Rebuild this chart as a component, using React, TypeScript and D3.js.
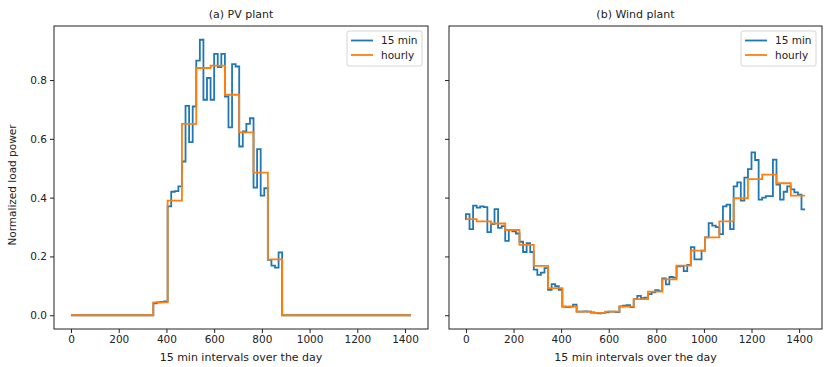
import React, { useEffect, useRef } from 'react';
import * as d3 from 'd3';

// 15-min samples (96 per day), x = 15 * index minutes
const pv15 = [
  0, 0, 0, 0, 0, 0, 0, 0, 0, 0, 0, 0,
  0, 0, 0, 0, 0, 0, 0, 0, 0, 0, 0, 0,
  0.040, 0.044, 0.045, 0.047, 0.370, 0.420, 0.422, 0.438,
  0.523, 0.712, 0.589, 0.710, 0.866, 0.937, 0.733, 0.807,
  0.733, 0.889, 0.844, 0.889, 0.744, 0.639, 0.854, 0.846,
  0.574, 0.625, 0.651, 0.670, 0.434, 0.565, 0.407, 0.432,
  0.188, 0.169, 0.162, 0.214,
  0, 0, 0, 0, 0, 0, 0, 0, 0, 0, 0, 0,
  0, 0, 0, 0, 0, 0, 0, 0, 0, 0, 0, 0,
  0, 0, 0, 0, 0, 0, 0, 0, 0, 0, 0, 0,
];
const pvHourly = [
  0, 0, 0, 0, 0, 0, 0.044, 0.390, 0.651, 0.841, 0.849, 0.750,
  0.622, 0.485, 0.190, 0, 0, 0, 0, 0, 0, 0, 0, 0,
];

const wind15 = [
  0.324, 0.344, 0.293, 0.373, 0.366, 0.370, 0.368, 0.283,
  0.310, 0.361, 0.297, 0.303, 0.253, 0.290, 0.285, 0.278,
  0.250, 0.215, 0.245, 0.215, 0.155, 0.137, 0.145, 0.160,
  0.086, 0.106, 0.099, 0.086, 0.029, 0.028, 0.029, 0.036,
  0.012, 0.012, 0.013, 0.012, 0.010, 0.008, 0.006, 0.008,
  0.010, 0.012, 0.012, 0.011, 0.030, 0.033, 0.034, 0.028,
  0.055, 0.066, 0.058, 0.060, 0.072, 0.078, 0.085, 0.082,
  0.125, 0.105, 0.130, 0.128, 0.166, 0.167, 0.150, 0.171,
  0.232, 0.190, 0.190, 0.220, 0.265, 0.313, 0.305, 0.300,
  0.276, 0.370, 0.376, 0.293, 0.438, 0.452, 0.390, 0.468,
  0.497, 0.554, 0.528, 0.393, 0.400, 0.405, 0.405, 0.529,
  0.444, 0.393, 0.420, 0.438, 0.428, 0.418, 0.410, 0.360,
];
const windHourly = [
  0.327, 0.319, 0.312, 0.290, 0.239, 0.168, 0.092, 0.029,
  0.012, 0.008, 0.012, 0.029, 0.055, 0.080, 0.122, 0.169,
  0.220, 0.265, 0.319, 0.398, 0.463, 0.478, 0.449, 0.407,
];

const xTicks = [0, 200, 400, 600, 800, 1000, 1200, 1400];
const yTicks = [0, 0.2, 0.4, 0.6, 0.8];
const titles = ['(a) PV plant', '(b) Wind plant'];
const seriesNames = ['15 min', 'hourly'];
const colors = ['#1f77b4', '#ff7f0e'];

const W = 828;
const H = 367;
const FONT = 'DejaVu Sans, sans-serif';

const App = () => {
  const ref = useRef<SVGSVGElement | null>(null);

  useEffect(() => {
    const svg = d3.select(ref.current);
    svg.selectAll('*').remove();

    const top = 26;
    const bottom = 329;
    const panels = [
      { left: 54, right: 428, q: pv15, h: pvHourly, title: titles[0], yLabels: true },
      { left: 449, right: 822, q: wind15, h: windHourly, title: titles[1], yLabels: false },
    ];

    // shared y, matplotlib-like 5% margins
    const yMax = d3.max([...pv15, ...wind15, ...pvHourly, ...windHourly]) as number;
    const yPad = yMax * 0.05;
    const y = d3.scaleLinear().domain([-yPad, yMax + yPad]).range([bottom, top]);

    const xMax = 15 * (pv15.length - 1);
    const xPad = xMax * 0.05;

    panels.forEach((p) => {
      const x = d3.scaleLinear().domain([-xPad, xMax + xPad]).range([p.left, p.right]);
      const g = svg.append('g');

      const line = d3.line<number>()
        .x((d, i) => x(15 * i))
        .y((d) => y(d))
        .curve(d3.curveStepBefore);

      const hourlyExpanded = p.q.map((d, i) => p.h[Math.floor(i / 4)]);

      g.append('path')
        .datum(p.q)
        .attr('d', line)
        .attr('fill', 'none')
        .attr('stroke', colors[0])
        .attr('stroke-width', 1.8);

      g.append('path')
        .datum(hourlyExpanded)
        .attr('d', line)
        .attr('fill', 'none')
        .attr('stroke', colors[1])
        .attr('stroke-width', 1.8);

      // frame
      g.append('rect')
        .attr('x', p.left)
        .attr('y', top)
        .attr('width', p.right - p.left)
        .attr('height', bottom - top)
        .attr('fill', 'none')
        .attr('stroke', '#222')
        .attr('stroke-width', 1);

      // x axis
      const xAxis = g.append('g')
        .attr('transform', `translate(0, ${bottom})`)
        .call(d3.axisBottom(x).tickValues(xTicks).tickSize(4).tickPadding(3).tickFormat(d3.format('d')));
      xAxis.select('.domain').remove();

      const yAxis = g.append('g')
        .attr('transform', `translate(${p.left}, 0)`)
        .call(d3.axisLeft(y).tickValues(yTicks).tickSize(4).tickPadding(3)
          .tickFormat(p.yLabels ? d3.format('.1f') : () => ''));
      yAxis.select('.domain').remove();

      g.selectAll('.tick line').attr('stroke', '#222').attr('stroke-width', 1);
      g.selectAll('.tick text')
        .attr('fill', '#222')
        .style('font-family', FONT)
        .style('font-size', '10.5px');

      // title
      g.append('text')
        .attr('x', (p.left + p.right) / 2)
        .attr('y', top - 8)
        .attr('text-anchor', 'middle')
        .style('font-family', FONT)
        .style('font-size', '11px')
        .attr('fill', '#222')
        .text(p.title);

      // x label
      g.append('text')
        .attr('x', (p.left + p.right) / 2)
        .attr('y', 361)
        .attr('text-anchor', 'middle')
        .style('font-family', FONT)
        .style('font-size', '11px')
        .attr('fill', '#222')
        .text('15 min intervals over the day');

      // legend
      const lx = p.right - 81;
      const ly = 31;
      const leg = g.append('g');
      leg.append('rect')
        .attr('x', lx)
        .attr('y', ly)
        .attr('width', 75)
        .attr('height', 35)
        .attr('rx', 2)
        .attr('fill', 'white')
        .attr('fill-opacity', 0.8)
        .attr('stroke', '#ccc')
        .attr('stroke-width', 0.8);
      seriesNames.forEach((name, i) => {
        const yy = ly + 9.5 + i * 14.5;
        leg.append('line')
          .attr('x1', lx + 4)
          .attr('x2', lx + 26)
          .attr('y1', yy)
          .attr('y2', yy)
          .attr('stroke', colors[i])
          .attr('stroke-width', 1.8);
        leg.append('text')
          .attr('x', lx + 34)
          .attr('y', yy + 3.5)
          .style('font-family', FONT)
          .style('font-size', '10.5px')
          .attr('fill', '#222')
          .text(name);
      });
    });

    // y label
    svg.append('text')
      .attr('transform', `translate(16, 185) rotate(-90)`)
      .attr('text-anchor', 'middle')
      .style('font-family', FONT)
      .style('font-size', '10.5px')
      .attr('fill', '#222')
      .text('Normalized load power');
  }, []);

  return (
    <div style={{ position: 'absolute', left: 0, top: 0 }}>
      <svg ref={ref} width={W} height={H} style={{ display: 'block', background: 'white' }} />
    </div>
  );
};

export default App;
